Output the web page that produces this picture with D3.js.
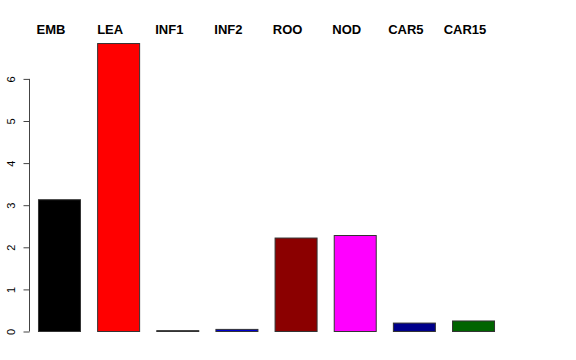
<!doctype html>
<html lang="en">
<head>
    <meta charset="UTF-8">
    <title>Bar chart</title>
    <script src="https://d3js.org/d3.v7.min.js"></script>
    <style>
        body { margin: 0; background: #fff; }
        svg { display: block; font-family: "Liberation Sans", Arial, sans-serif; }
    </style>
</head>
<body>
<div id="chart"></div>
<script>
  // Data
  const categories = ['EMB', 'LEA', 'INF1', 'INF2', 'ROO', 'NOD', 'CAR5', 'CAR15'];
  const values = [3.13, 6.84, 0.02, 0.05, 2.22, 2.28, 0.20, 0.25];
  const barColors = ['#000000', '#ff0000', '#000000', '#0000cd', '#8b0000', '#ff00ff', '#00008b', '#006400'];
  const yTicks = [0, 1, 2, 3, 4, 5, 6];

  const dimensions = {
    width: 576,
    height: 360,
    plotLeft: 38,
    plotRight: 494,
    plotTop: 43,
    plotBottom: 331
  };

  const svg = d3.select('#chart')
    .append('svg')
    .attr('width', dimensions.width)
    .attr('height', dimensions.height);

  // Scales
  const xScale = d3.scaleBand()
    .domain(categories)
    .range([dimensions.plotLeft - 8.6, dimensions.plotRight + 8.6])
    .paddingInner(0.29)
    .paddingOuter(0.145);

  const yScale = d3.scaleLinear()
    .domain([0, 6])
    .range([dimensions.plotBottom, dimensions.plotBottom - 6 * 42.1]);

  // Bars
  svg.append('g')
    .selectAll('rect')
    .data(categories)
    .join('rect')
    .attr('x', d => xScale(d) + 0.5)
    .attr('y', (d, i) => yScale(values[i]) + 0.5)
    .attr('width', xScale.bandwidth())
    .attr('height', (d, i) => yScale(0) - yScale(values[i]))
    .attr('fill', (d, i) => barColors[i])
    .attr('stroke', '#333')
    .attr('stroke-width', 1);

  // Labels over the top
  svg.append('g')
    .selectAll('text')
    .data(categories)
    .join('text')
    .attr('x', d => xScale(d) + xScale.bandwidth() / 2 - 8)
    .attr('y', 34)
    .attr('text-anchor', 'middle')
    .style('font-size', '13px')
    .style('font-weight', 'bold')
    .text(d => d);

  // Y axis
  const yAxis = d3.axisLeft(yScale)
    .tickValues(yTicks)
    .tickSize(6)
    .tickFormat(d => d);

  const axisG = svg.append('g')
    .attr('transform', `translate(29.5, 0.5)`)
    .call(yAxis);

  axisG.select('.domain')
    .attr('d', `M0,${yScale(0)}V${yScale(6)}`)
    .attr('stroke', '#444');
  axisG.selectAll('.tick line').attr('stroke', '#444');
  axisG.selectAll('.tick text')
    .attr('x', null)
    .attr('dy', null)
    .attr('text-anchor', 'middle')
    .attr('transform', 'translate(-15,0) rotate(-90)')
    .style('font-size', '11px')
    .style('font-family', '"Liberation Sans", Arial, sans-serif')
    .attr('fill', '#000');
</script>
</body>
</html>
